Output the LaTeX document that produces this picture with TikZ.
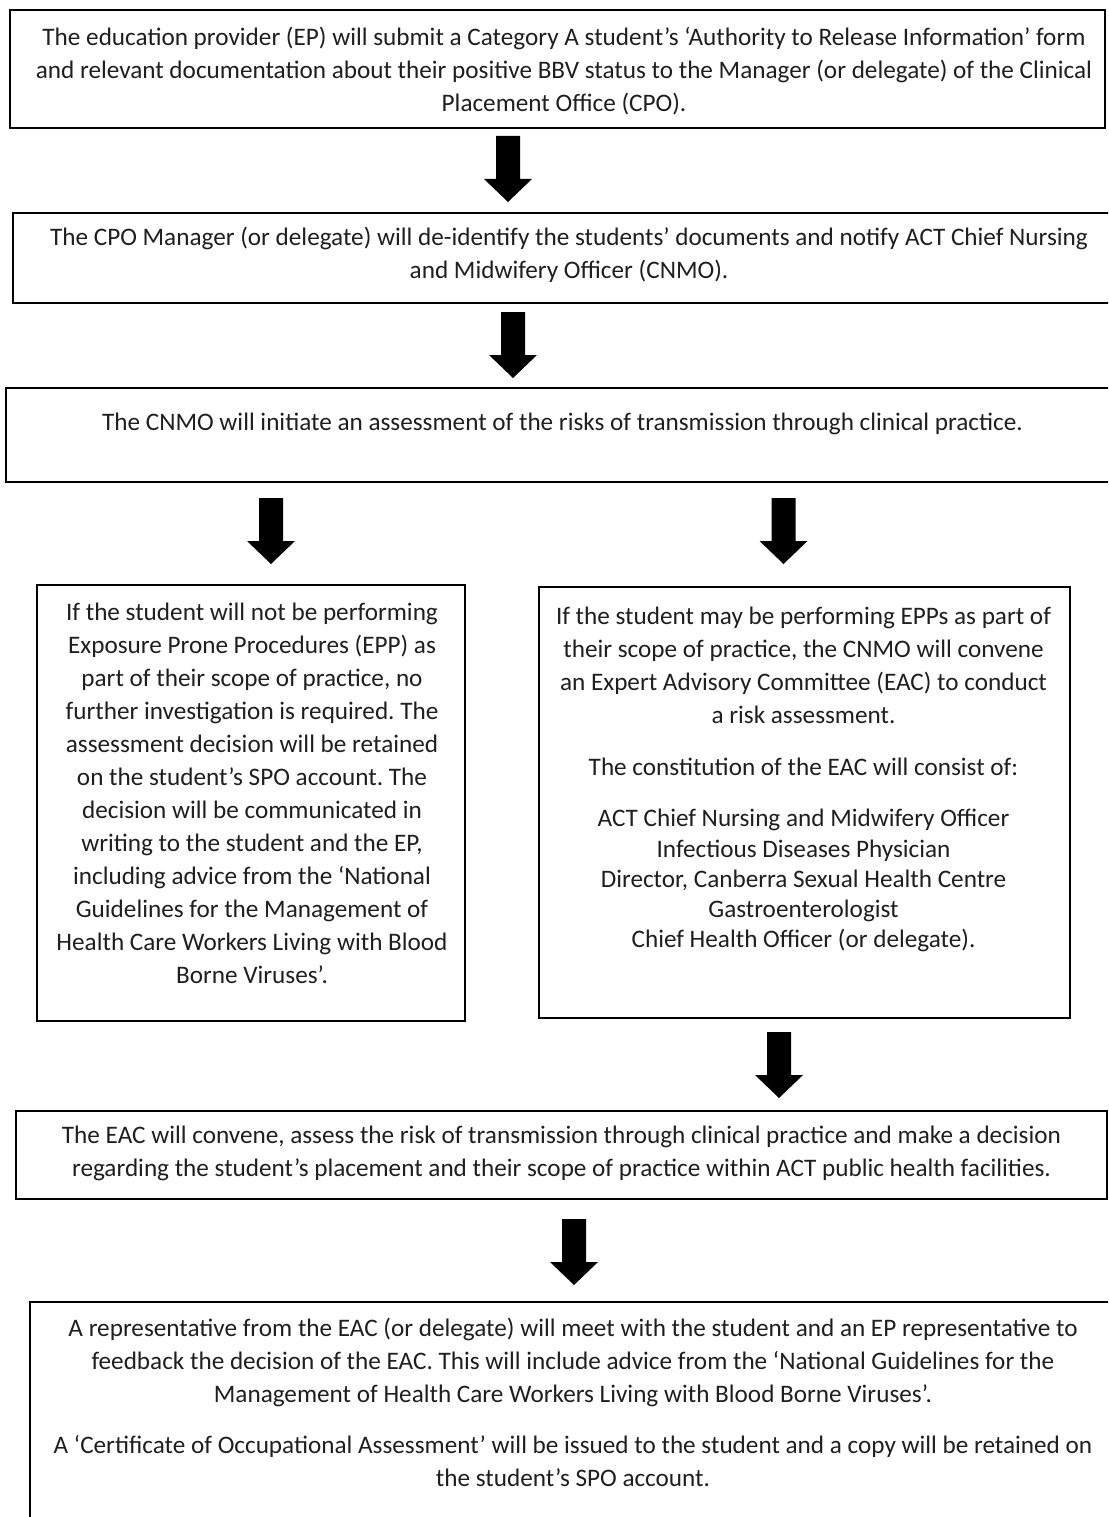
\documentclass[tikz,border=0pt]{standalone}
\usepackage{fontspec}
\setmainfont{Carlito}
\frenchspacing
\begin{document}
\begin{tikzpicture}[x=1pt,y=-1pt,
  flowbox/.style={draw=black,line width=1.3pt,rectangle,inner sep=0pt,fill=none},
  flowtext/.style={anchor=north,inner sep=0pt,align=center,text=black!88,
    font=\fontsize{25.2}{33}\selectfont},
  blockarrow/.pic={\fill[black] (-12,0) -- (12,0) -- (12,43) -- (24,43) -- (0,66) -- (-24,43) -- (-12,43) -- cycle;}]
\useasboundingbox (0,0) rectangle (1108,1517);
\clip (0,0) rectangle (1108,1517);
\fill[white] (0,0) rectangle (1108,1517);
% boxes
\node[flowbox,minimum width=1095,minimum height=118] (b1) at (557.5,69) {};
\node[flowbox,minimum width=1112,minimum height=90] (b2) at (569,258) {};
\node[flowbox,minimum width=1112,minimum height=94] (b3) at (562,435) {};
\node[flowbox,minimum width=428,minimum height=436] (b4) at (251,803) {};
\node[flowbox,minimum width=531,minimum height=431] (b5) at (804.5,802.5) {};
\node[flowbox,minimum width=1091,minimum height=88] (b6) at (561.5,1155) {};
\node[flowbox,minimum width=1086,minimum height=240] (b7) at (573,1422) {};
% texts
\node[flowtext] (t1) at (564,27) {The education provider (EP) will submit a Category A student’s ‘Authority to Release Information’ form\\
and relevant documentation about their positive BBV status to the Manager (or delegate) of the Clinical\\
Placement Office (CPO).};
\node[flowtext] (t2) at (569,227) {The CPO Manager (or delegate) will de-identify the students’ documents and notify ACT Chief Nursing\\
and Midwifery Officer (CNMO).};
\node[flowtext] (t3) at (562.5,413) {The CNMO will initiate an assessment of the risks of transmission through clinical practice.};
\node[flowtext] (t4) at (252,603) {If the student will not be performing\\
Exposure Prone Procedures (EPP) as\\
part of their scope of practice, no\\
further investigation is required. The\\
assessment decision will be retained\\
on the student’s SPO account. The\\
decision will be communicated in\\
writing to the student and the EP,\\
including advice from the ‘National\\
Guidelines for the Management of\\
Health Care Workers Living with Blood\\
Borne Viruses’.};
\node[flowtext] (t5) at (803.5,607) {If the student may be performing EPPs as part of\\
their scope of practice, the CNMO will convene\\
an Expert Advisory Committee (EAC) to conduct\\
a risk assessment.\\[19pt]
The constitution of the EAC will consist of:\\[18pt]
ACT Chief Nursing and Midwifery Officer\\[-2pt]
Infectious Diseases Physician\\[-3pt]
Director, Canberra Sexual Health Centre\\[-3pt]
Gastroenterologist\\[-3pt]
Chief Health Officer (or delegate).};
\node[flowtext] (t6) at (561.5,1126) {The EAC will convene, assess the risk of transmission through clinical practice and make a decision\\
regarding the student’s placement and their scope of practice within ACT public health facilities.};
\node[flowtext] (t7) at (573,1318) {A representative from the EAC (or delegate) will meet with the student and an EP representative to\\
feedback the decision of the EAC. This will include advice from the ‘National Guidelines for the\\
Management of Health Care Workers Living with Blood Borne Viruses’.\\[18pt]
A ‘Certificate of Occupational Assessment’ will be issued to the student and a copy will be retained on\\
the student’s SPO account.};
% block arrows
\pic at (508,136) {blockarrow};
\pic at (513,312) {blockarrow};
\pic at (271,498) {blockarrow};
\pic at (783.5,498) {blockarrow};
\pic at (779,1032) {blockarrow};
\pic at (574,1219) {blockarrow};
\end{tikzpicture}
\end{document}
